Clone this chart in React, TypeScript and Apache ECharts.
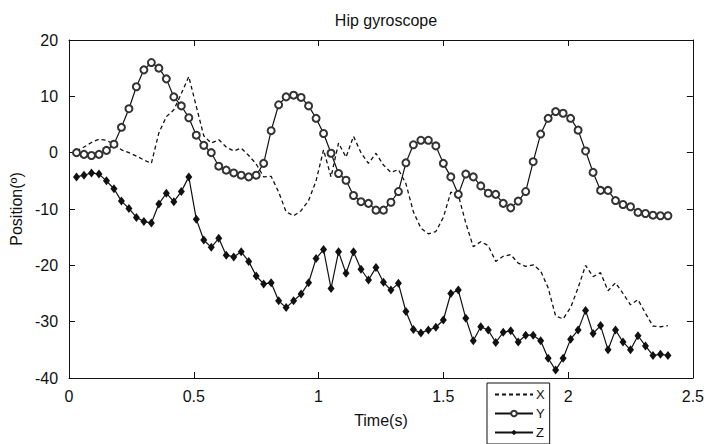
import React, { useEffect, useRef } from "react";
import * as echarts from "echarts";

const titleText = "Hip gyroscope";
const xName = "Time(s)";
const yName = "Position(º)";
const sampleStep = 0.03;
const seriesNames = ["X", "Y", "Z"];

const xValues = [
  0.3, 1.0, 1.8, 2.4, 2.2, 1.5, 0.5, 0.0, -0.6, -1.3,
  -1.9, 3.5, 6.4, 7.6, 10.5, 13.5, 8.2, 3.0, 1.7, 2.3,
  1.0, 0.3, 0.8, -0.5, -2.0, -4.3, -4.2, -7.0, -10.5, -11.2,
  -10.3, -8.5, -5.0, 0.5, -4.3, 1.7, -0.8, 2.9, 0.0, -1.9,
  -0.1, -2.2, -3.5, -3.0, -5.5, -10.5, -13.4, -14.4, -14.0, -11.5,
  -7.0, -7.5, -12.5, -16.7, -15.8, -16.5, -19.3, -18.4, -18.1, -19.6,
  -20.2, -19.9, -21.0, -24.0, -29.0, -29.5, -27.5, -24.0, -20.0, -22.0,
  -21.3, -24.5, -23.1, -25.0, -27.0, -26.1, -28.5, -30.8, -30.9, -30.7,
];

const yValues = [
  0.0, -0.3, -0.5, -0.3, 0.4, 1.5, 4.5, 7.8, 11.7, 14.7,
  16.0, 15.0, 13.1, 9.9, 8.3, 6.2, 3.1, 1.3, 0.0, -2.4,
  -3.1, -3.6, -4.0, -4.3, -4.0, -1.9, 3.9, 8.5, 9.9, 10.2,
  9.8, 8.3, 6.1, 3.4, -0.1, -3.7, -4.9, -7.6, -8.7, -9.0,
  -10.2, -10.2, -8.8, -6.9, -1.8, 1.4, 2.2, 2.2, 1.2, -1.9,
  -4.3, -7.4, -3.8, -4.3, -5.9, -7.2, -7.4, -9.0, -9.8, -8.6,
  -6.9, -1.6, 3.3, 6.1, 7.3, 7.0, 6.1, 4.0, 0.3, -3.5,
  -6.7, -6.7, -8.5, -9.2, -9.6, -10.6, -10.8, -11.1, -11.2, -11.2,
];

const zValues = [
  -4.3, -4.0, -3.6, -3.8, -5.0, -6.4, -8.6, -9.9, -11.5, -12.2,
  -12.5, -9.1, -7.2, -8.7, -6.9, -4.3, -11.8, -15.5, -16.8, -15.2,
  -18.2, -18.5, -17.6, -19.3, -21.9, -23.3, -23.1, -26.3, -27.5, -26.3,
  -25.1, -23.1, -18.8, -17.2, -24.1, -17.6, -21.4, -17.6, -20.7, -22.6,
  -20.4, -23.0, -24.4, -23.2, -28.2, -31.4, -32.0, -31.5, -31.0, -29.7,
  -25.0, -24.4, -29.4, -33.4, -30.9, -31.5, -33.7, -31.9, -31.6, -33.6,
  -32.4, -32.4, -33.4, -36.5, -38.6, -36.5, -33.1, -31.5, -28.0, -32.1,
  -30.7, -35.0, -31.5, -33.6, -35.0, -32.5, -34.3, -36.0, -35.8, -36.0,
];

const xTicks = { min: 0, max: 2.5, interval: 0.5 };
const yTicks = { min: -40, max: 20, interval: 10 };

function pairs(values: number[]) {
  return values.map((v, i) => [+(sampleStep * (i + 1)).toFixed(2), v]);
}

export default function App() {
  const ref = useRef<HTMLDivElement>(null);
  useEffect(() => {
    if (!ref.current) return;
    const chart = echarts.init(ref.current, undefined, { renderer: "svg" });
    const font = "Liberation Sans, Arial, sans-serif";
    const ink = "#111";
    const tickCommon = {
      axisLine: { show: true, onZero: false, lineStyle: { color: ink, width: 1 } },
      axisTick: { show: true, inside: true, length: 6, lineStyle: { color: ink } },
      splitLine: { show: false },
    };
    chart.setOption({
      animation: false,
      backgroundColor: "#fff",
      textStyle: { fontFamily: font },
      title: {
        text: titleText,
        left: 381,
        top: 7,
        textAlign: "center",
        textStyle: { fontFamily: font, fontSize: 16, fontWeight: "normal", color: ink },
      },
      grid: { left: 69, right: 13, top: 40, bottom: 66, containLabel: false },
      legend: {
        data: [
          { name: seriesNames[0], itemStyle: { opacity: 0 } },
          seriesNames[1],
          seriesNames[2],
        ],
        orient: "vertical",
        left: 487,
        top: 383,
        backgroundColor: "#fff",
        borderColor: ink,
        borderWidth: 1,
        borderRadius: 0,
        padding: [5, 5, 5, 7],
        itemGap: 6,
        itemWidth: 38,
        itemHeight: 7,
        textStyle: { fontFamily: font, fontSize: 13, color: ink, padding: [0, 0, 0, -2] },
      },
      xAxis: [
        {
          type: "value",
          ...xTicks,
          position: "bottom",
          name: xName,
          nameLocation: "middle",
          nameGap: 34,
          nameTextStyle: { fontFamily: font, fontSize: 16, color: ink },
          axisLabel: { fontFamily: font, fontSize: 16, color: ink, margin: 10 },
          ...tickCommon,
        },
        {
          type: "value",
          ...xTicks,
          position: "top",
          axisLabel: { show: false },
          ...tickCommon,
        },
      ],
      yAxis: [
        {
          type: "value",
          ...yTicks,
          position: "left",
          name: yName,
          nameLocation: "middle",
          nameGap: 42,
          nameTextStyle: { fontFamily: font, fontSize: 16, color: ink },
          axisLabel: { fontFamily: font, fontSize: 16, color: ink, margin: 11 },
          ...tickCommon,
        },
        {
          type: "value",
          ...yTicks,
          position: "right",
          axisLabel: { show: false },
          ...tickCommon,
        },
      ],
      series: [
        {
          name: seriesNames[0],
          type: "line",
          data: pairs(xValues),
          showSymbol: false,
          symbol: "none",
          lineStyle: { color: ink, width: 1.3, type: [4, 3] },
          itemStyle: { color: ink },
        },
        {
          name: seriesNames[1],
          type: "line",
          data: pairs(yValues),
          symbol: "emptyCircle",
          symbolSize: 7,
          lineStyle: { color: ink, width: 1.2 },
          itemStyle: { color: "#333", borderWidth: 1 },
        },
        {
          name: seriesNames[2],
          type: "line",
          data: pairs(zValues),
          symbol: "diamond",
          symbolSize: [7, 9],
          lineStyle: { color: ink, width: 1.2 },
          itemStyle: { color: ink },
        },
      ],
    });
    return () => chart.dispose();
  }, []);
  return (
    <div
      ref={ref}
      style={{ position: "fixed", left: 0, top: 0, width: 707, height: 444, background: "#fff" }}
    />
  );
}
